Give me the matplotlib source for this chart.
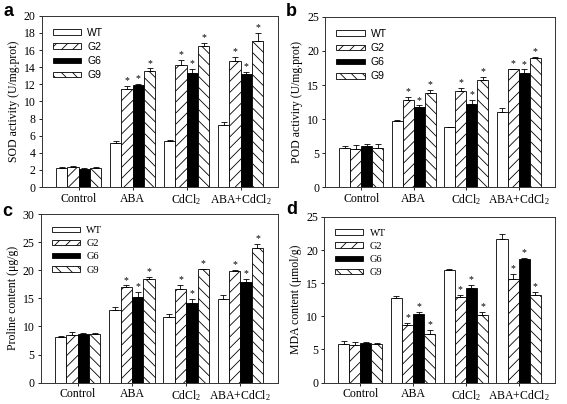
import numpy as np
import matplotlib.pyplot as plt

plt.rcParams['font.family'] = ['Liberation Serif', 'DejaVu Serif']
plt.rcParams['mathtext.fontset'] = 'custom'
plt.rcParams['mathtext.rm'] = 'Liberation Serif'
plt.rcParams['mathtext.it'] = 'Liberation Serif:italic'
plt.rcParams['hatch.linewidth'] = 0.6

groups = ['Control', 'ABA', r'CdCl$_2$', r'ABA+CdCl$_2$']
lines = ['WT', 'G2', 'G6', 'G9']

# values per line: Control, ABA, CdCl2, ABA+CdCl2
sod = {'WT': [2.2, 5.2, 5.35, 7.2], 'G2': [2.3, 11.5, 14.3, 14.7],
       'G6': [2.15, 11.9, 13.3, 13.2], 'G9': [2.25, 13.6, 16.5, 17.1]}
sod_err = {'WT': [0.1, 0.2, 0.2, 0.45], 'G2': [0.1, 0.3, 0.5, 0.45],
           'G6': [0.05, 0.1, 0.45, 0.25], 'G9': [0.1, 0.25, 0.3, 0.9]}

pod = {'WT': [5.8, 9.7, 8.8, 11.1], 'G2': [5.6, 12.8, 14.1, 17.3],
       'G6': [6.1, 11.8, 12.2, 16.7], 'G9': [5.7, 13.8, 15.8, 19.0]}
pod_err = {'WT': [0.3, 0.1, 0.1, 0.5], 'G2': [0.6, 0.5, 0.5, 0.1],
           'G6': [0.3, 0.2, 0.6, 0.6], 'G9': [0.6, 0.5, 0.4, 0.1]}

pro = {'WT': [8.2, 12.9, 11.7, 14.8], 'G2': [8.4, 17.0, 16.6, 19.9],
       'G6': [8.7, 15.2, 14.1, 17.9], 'G9': [8.6, 18.4, 20.2, 23.9]}
pro_err = {'WT': [0.1, 0.6, 0.5, 0.8], 'G2': [0.6, 0.3, 0.8, 0.1],
           'G6': [0.05, 0.9, 0.8, 0.5], 'G9': [0.15, 0.4, 0.1, 0.8]}

mda = {'WT': [5.8, 12.8, 17.0, 21.6], 'G2': [5.7, 8.7, 12.9, 15.6],
       'G6': [5.9, 10.4, 14.3, 18.7], 'G9': [5.8, 7.4, 10.2, 13.2]}
mda_err = {'WT': [0.5, 0.3, 0.1, 0.8], 'G2': [0.4, 0.3, 0.3, 0.8],
           'G6': [0.2, 0.3, 0.4, 0.1], 'G9': [0.1, 0.5, 0.5, 0.5]}

styles = {'WT': ('white', ''), 'G2': ('white', '///'),
          'G6': ('black', ''), 'G9': ('white', '\\\\\\')}

fig = plt.figure(figsize=(5.67, 4.04), dpi=100)

# tag, axes rect, data, errors, ymax, step, ylabel, legend font, tag pos (px)
panels = [
    ('a', [0.074, 0.537, 0.416, 0.424], sod, sod_err, 20, 2,
     'SOD activity (U/mg.prot)', 'Liberation Sans', (3, 11)),
    ('b', [0.574, 0.537, 0.405, 0.421], pod, pod_err, 25, 5,
     'POD activiry (U/mg.prot)', 'Liberation Sans', (286, 11)),
    ('c', [0.072, 0.053, 0.418, 0.417], pro, pro_err, 30, 5,
     'Proline content (μg/g)', 'Liberation Serif', (2, 212)),
    ('d', [0.572, 0.053, 0.407, 0.41], mda, mda_err, 25, 5,
     'MDA content (μmol/g)', 'Liberation Serif', (286, 210)),
]

x = np.arange(len(groups))
w = 0.21

for tag, pos, data, err, ymax, step, ylabel, legfont, tpos in panels:
    ax = fig.add_axes(pos)
    for i, ln in enumerate(lines):
        fc, hatch = styles[ln]
        xs = x + (i - 1.5) * w
        vals = np.array(data[ln])
        e = np.array(err[ln])
        ax.bar(xs, vals, w, color=fc, edgecolor='black', hatch=hatch,
               linewidth=0.6, label=ln)
        ax.errorbar(xs, vals, yerr=[np.zeros_like(e), e], fmt='none',
                    ecolor='black', elinewidth=0.6, capsize=2.2, capthick=0.6)
        if ln != 'WT':
            for xx, v, ee in zip(xs[1:], vals[1:], e[1:]):
                ax.annotate('*', (xx, v + ee), xytext=(0, 0.5),
                            textcoords='offset points', ha='center',
                            va='bottom', fontsize=7)
    ax.set_xlim(-0.68, 3.69)
    ax.set_ylim(0, ymax)
    ax.set_yticks(np.arange(0, ymax + 0.1, step))
    ax.set_xticks(x)
    ax.set_xticklabels(groups)
    ax.tick_params(direction='out', length=2.5, width=0.6, labelsize=8.5,
                   pad=2)
    ax.tick_params(axis='x', pad=1.5)
    for sp in ax.spines.values():
        sp.set_linewidth(0.7)
        sp.set_color('#333333')
    ax.set_ylabel(ylabel, fontsize=8.5, labelpad=3)
    ax.legend(loc='upper left', bbox_to_anchor=(0.025, 0.96), frameon=False,
              borderpad=0, handlelength=2.7, handleheight=0.45,
              handletextpad=0.6, labelspacing=0.4,
              prop={'family': legfont, 'size': 7.5})
    fig.text(tpos[0] / 567, 1 - tpos[1] / 404, tag, fontsize=13,
             fontweight='bold', family='Liberation Sans', ha='left',
             va='center')

fig.savefig('out.png', dpi=100)
